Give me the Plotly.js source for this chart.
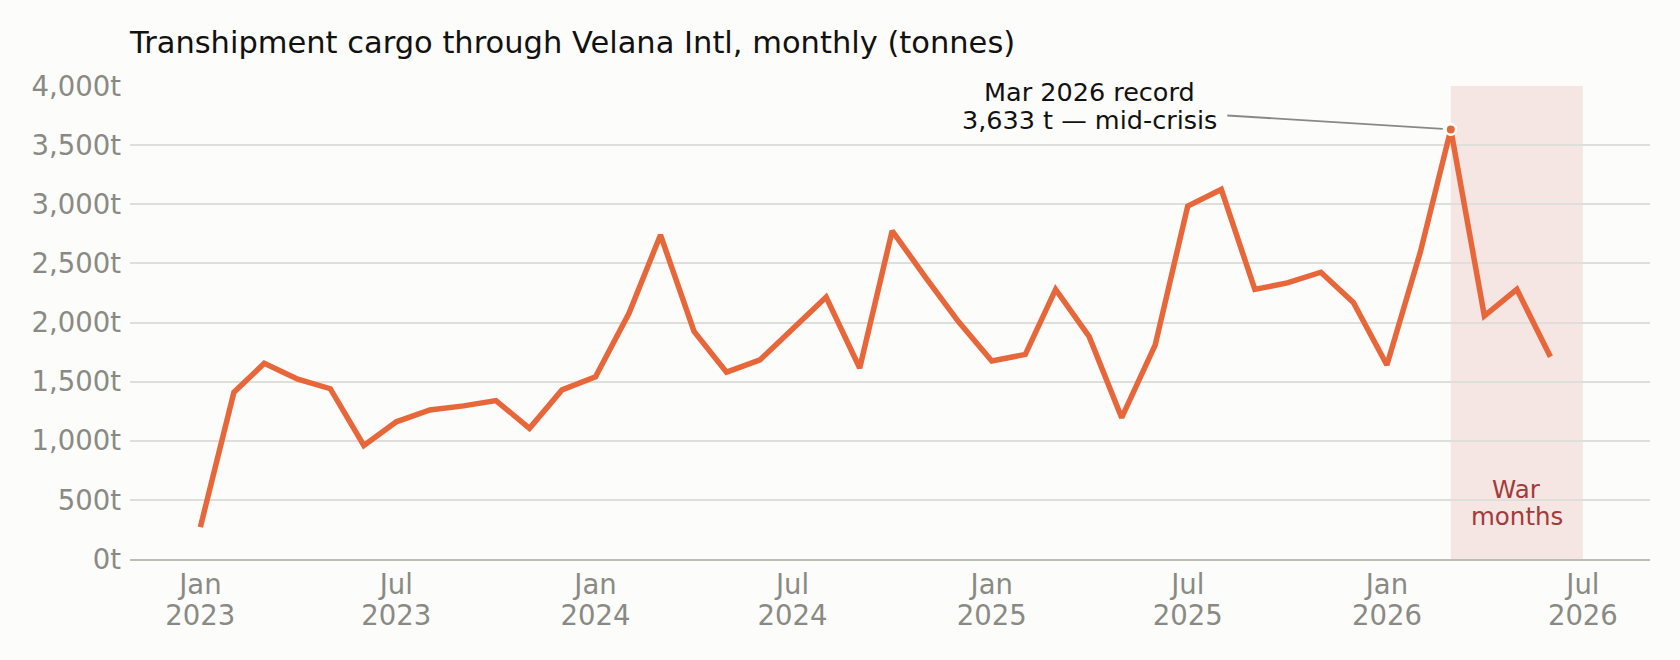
<!DOCTYPE html>
<html>
<head>
<meta charset="utf-8">
<script src="https://cdn.plot.ly/plotly-3.0.1.min.js"></script>
<style>
  html, body { margin: 0; padding: 0; background: #fcfcfa; }
  #chart { width: 1680px; height: 660px; }
</style>
</head>
<body>
<div id="chart"></div>
<script>
// monthly transhipment cargo, tonnes
const months = [
  "2023-01", "2023-02", "2023-03", "2023-04", "2023-05", "2023-06",
  "2023-07", "2023-08", "2023-09", "2023-10", "2023-11", "2023-12",
  "2024-01", "2024-02", "2024-03", "2024-04", "2024-05", "2024-06",
  "2024-07", "2024-08", "2024-09", "2024-10", "2024-11", "2024-12",
  "2025-01", "2025-02", "2025-03", "2025-04", "2025-05", "2025-06",
  "2025-07", "2025-08", "2025-09", "2025-10", "2025-11", "2025-12",
  "2026-01", "2026-02", "2026-03", "2026-04", "2026-05", "2026-06"
];
const tonnes = [
  270, 1410, 1655, 1520, 1440, 960,
  1160, 1260, 1295, 1340, 1105, 1430,
  1540, 2080, 2740, 1925, 1580, 1685,
  1945, 2215, 1615, 2775, 2380, 2010,
  1675, 1730, 2280, 1880, 1195, 1810,
  2985, 3125, 2280, 2335, 2425, 2170,
  1640, 2600, 3633, 2055, 2280, 1710
];
const recordMonth = "2026-03";
const recordValue = 3633;
const recordLines = ["Mar 2026 record", "3,633 t — mid-crisis"];
const warStart = "2026-03-01";
const warEnd = "2026-07-01";
const warLines = ["War", "months"];

const font = "DejaVu Sans, sans-serif";
const grey = "#8a8a84";

const traces = [
  {
    x: months,
    y: tonnes,
    type: "scatter",
    mode: "lines",
    line: { color: "#e8673a", width: 5.5 },
    hoverinfo: "skip"
  },
  {
    x: [recordMonth],
    y: [recordValue],
    type: "scatter",
    mode: "markers",
    marker: { color: "#e8673a", size: 10.5, line: { color: "#ffffff", width: 2.5 } },
    hoverinfo: "skip"
  },
  // invisible trace so the year row axis gets drawn
  {
    x: months,
    y: tonnes,
    xaxis: "x2",
    type: "scatter",
    mode: "lines",
    line: { width: 0 },
    opacity: 0,
    hoverinfo: "skip"
  }
];

const xRange = ["2022-10-28", "2026-09-01"];

const layout = {
  width: 1680,
  height: 660,
  paper_bgcolor: "#fcfcfa",
  plot_bgcolor: "#fcfcfa",
  showlegend: false,
  margin: { l: 130, r: 30, t: 86, b: 101 },
  font: { family: font, color: grey },
  title: {
    text: "Transhipment cargo through Velana Intl, monthly (tonnes)",
    font: { family: font, size: 30.5, color: "#111111" },
    x: 0, xref: "paper", xanchor: "left",
    y: 0.952, yref: "container", yanchor: "top"
  },
  xaxis: {
    type: "date",
    range: xRange,
    dtick: "M6",
    tick0: "2023-01-01",
    tickformat: "%b",
    tickfont: { size: 27.5, color: grey },
    showgrid: false,
    showline: true,
    linecolor: "#bdbdb3",
    linewidth: 2,
    ticks: "",
    zeroline: false
  },
  xaxis2: {
    type: "date",
    overlaying: "x",
    anchor: "y",
    side: "bottom",
    range: xRange,
    dtick: "M6",
    tick0: "2023-01-01",
    tickformat: "%Y",
    tickfont: { size: 27.5, color: grey },
    ticklabelstandoff: 37,
    showgrid: false,
    showline: false,
    ticks: "",
    zeroline: false
  },
  yaxis: {
    range: [0, 4000],
    dtick: 500,
    tickformat: ",d",
    ticksuffix: "t",
    tickfont: { size: 27.5, color: grey },
    gridcolor: "#dededa",
    gridwidth: 2,
    zeroline: false,
    showline: false,
    ticks: "",
    ticklabelstandoff: 8
  },
  shapes: [
    {
      type: "rect",
      xref: "x", yref: "paper",
      x0: warStart, x1: warEnd, y0: 0, y1: 1,
      fillcolor: "#f5e6e4",
      line: { width: 0 },
      layer: "below"
    }
  ],
  annotations: [
    {
      x: recordMonth, y: recordValue,
      xref: "x", yref: "y",
      text: "",
      showarrow: true,
      arrowhead: 0,
      arrowwidth: 1.8,
      arrowcolor: "#888888",
      ax: -225, ay: -14,
      standoff: 8
    },
    {
      x: recordMonth, y: recordValue,
      xref: "x", yref: "y",
      text: recordLines[0],
      font: { family: font, size: 25.5, color: "#111111" },
      showarrow: false,
      xanchor: "center", yanchor: "middle",
      xshift: -361, yshift: 37
    },
    {
      x: recordMonth, y: recordValue,
      xref: "x", yref: "y",
      text: recordLines[1],
      font: { family: font, size: 25.5, color: "#111111" },
      showarrow: false,
      xanchor: "center", yanchor: "middle",
      xshift: -361, yshift: 9
    },
    {
      x: "2026-05-01", y: 0.147,
      xref: "x", yref: "paper",
      text: warLines[0],
      font: { family: font, size: 24.5, color: "#a33b3b" },
      showarrow: false,
      yanchor: "middle"
    },
    {
      x: "2026-05-01", y: 0.09,
      xref: "x", yref: "paper",
      text: warLines[1],
      font: { family: font, size: 24.5, color: "#a33b3b" },
      showarrow: false,
      yanchor: "middle"
    }
  ]
};

Plotly.newPlot("chart", traces, layout, { displayModeBar: false, staticPlot: true });
</script>
</body>
</html>
